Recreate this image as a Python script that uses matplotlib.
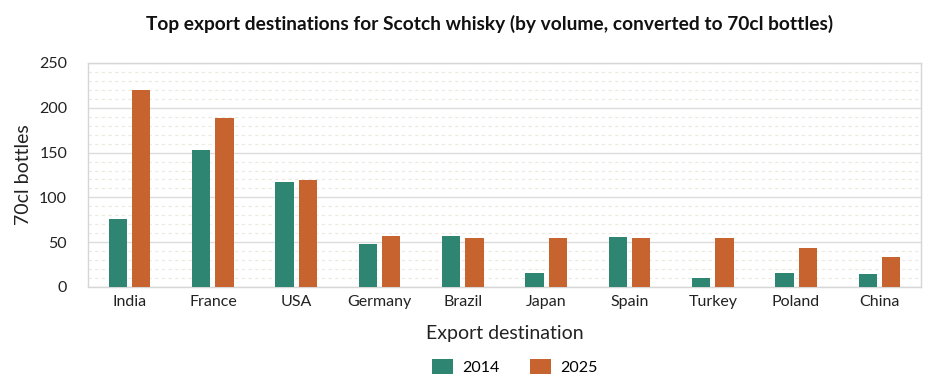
import numpy as np
import matplotlib
matplotlib.use("Agg")
import matplotlib.pyplot as plt
from matplotlib.ticker import MultipleLocator

destinos = ["India", "France", "USA", "Germany", "Brazil", "Japan",
            "Spain", "Turkey", "Poland", "China"]
botellas_2014 = [76, 153, 117, 48, 57, 16, 56, 10, 16, 15]
botellas_2025 = [220, 189, 119, 57, 55, 55, 55, 55, 44, 34]
anios = ["2014", "2025"]

verde = "#2e8571"
naranja = "#c7632e"

plt.rcParams["font.family"] = ["Lato", "DejaVu Sans"]

fig = plt.figure(figsize=(9.4, 3.8), dpi=100)
ax = fig.add_axes([88 / 940, 1 - 287 / 380, 833 / 940, 224 / 380])

x = np.arange(len(destinos))
ancho = 0.22
ax.bar(x - 0.14, botellas_2014, ancho, color=verde, label=anios[0], zorder=3)
ax.bar(x + 0.14, botellas_2025, ancho, color=naranja, label=anios[1], zorder=3)

ax.set_xlim(-0.5, len(destinos) - 0.5)
ax.set_ylim(0, 250)
ax.yaxis.set_major_locator(MultipleLocator(50))
ax.yaxis.set_minor_locator(MultipleLocator(10))
ax.grid(axis="y", which="major", color="#dcdcdc", linewidth=1, zorder=0)
ax.grid(axis="y", which="minor", color="#ece9e0", linewidth=0.8,
        linestyle=(0, (3, 3)), zorder=0)

for lado in ax.spines.values():
    lado.set_color("#d6d6d6")
    lado.set_linewidth(1)

ax.set_xticks(x)
ax.set_xticklabels(destinos)
ax.tick_params(axis="both", which="both", length=0, labelsize=11.5,
               colors="#222222")
ax.tick_params(axis="y", pad=15)
ax.tick_params(axis="x", pad=6)

ax.set_xlabel("Export destination", fontsize=14, color="#222222", labelpad=11)
ax.set_ylabel("70cl bottles", fontsize=14, color="#222222")
ax.yaxis.set_label_coords(-0.067, 0.5)
fig.suptitle("Top export destinations for Scotch whisky (by volume, converted to 70cl bottles)",
             fontsize=13.8, fontweight="bold", color="#111111", x=0.521, y=0.96)

fig.legend(loc="lower center", bbox_to_anchor=(0.548, -0.025), ncol=2,
           frameon=False, fontsize=11.5, handlelength=1.3, handleheight=1.1,
           columnspacing=1.9, handletextpad=0.6)

fig.savefig("out.png", dpi=100)
